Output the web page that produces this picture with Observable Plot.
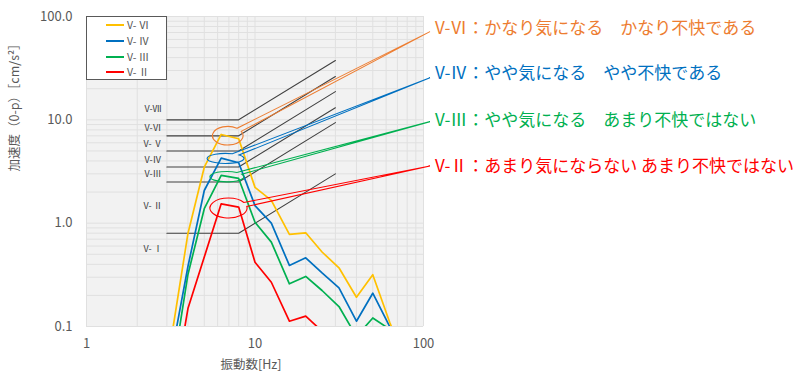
<!DOCTYPE html>
<html><head><meta charset="utf-8">
<script src="https://cdn.jsdelivr.net/npm/d3@7"></script>
<script src="https://cdn.jsdelivr.net/npm/@observablehq/plot@0.6"></script>
<style>
body{margin:0;background:#fff;}
#wrap{position:relative;width:807px;height:379px;font-family:"Noto Sans CJK JP",sans-serif;}
#legend{position:absolute;left:86px;top:16px;width:79px;height:62px;background:#fff;border:1px solid #595959;}
#legend .row{position:absolute;left:0;height:14px;display:flex;align-items:center;}
#legend .sw{width:18px;height:2px;margin-left:19px;margin-right:3px;}
#legend .lb{font-size:10.5px;color:#595959;line-height:14px;}
</style></head><body><div id="wrap"></div>
<script>
// ---- data ----
const freqs = [3.15, 4, 5, 6.3, 8, 10, 12.5, 16, 20, 25, 31.5, 40, 50, 63, 80];
const seriesNames = ["V- Ⅵ", "V- Ⅳ", "V- Ⅲ", "V- Ⅱ"];
const seriesColors = ["#FFC000", "#0070C0", "#00B050", "#FF0000"];
const valsVI  = [0.068, 0.795, 3.48, 7.22, 6.56, 2.22, 1.66, 0.778, 0.807, 0.526, 0.37, 0.192, 0.317, 0.11, 0.04];
const valsIV  = [0.047, 0.381, 2.07, 4.26, 3.84, 1.48, 1.0, 0.39, 0.462, 0.33, 0.237, 0.1125, 0.21, 0.1, 0.04];
const valsIII = [0.027, 0.319, 1.38, 2.9, 2.71, 1.02, 0.655, 0.259, 0.305, 0.223, 0.156, 0.08, 0.121, 0.094, 0.04];
const valsII  = [0.015, 0.149, 0.47, 1.54, 1.43, 0.419, 0.268, 0.1125, 0.126, 0.09, null, null, null, null, null];
const seriesValues = [valsVI, valsIV, valsIII, valsII];

// evaluation lines (flat 3-8 Hz, rising to 30 Hz)
const evalFreqs = [3, 8, 30];
const evalLevels8 = [10, 7, 5, 3.5, 2.5, 0.8];
const evalLevels30 = [37.5, 26.25, 18.75, 13.1, 9.4, 3.0];
const evalLabelText = ["V-Ⅶ", "V-Ⅵ", "V- Ⅴ", "V-Ⅳ", "V-Ⅲ", "V- Ⅱ", "V- Ⅰ"];
const evalLabelY = [12.6, 8.31, 5.87, 4.11, 2.96, 1.46, 0.565];
const evalLabelX = 2.48;

// callouts
const annTexts = [
  "V-Ⅵ：かなり気になる　かなり不快である",
  "V-Ⅳ：やや気になる　やや不快である",
  "V-Ⅲ：やや気になる　あまり不快ではない",
  "V-Ⅱ：あまり気にならない あまり不快ではない"
];
const annColors = ["#ED7D31", "#0070C0", "#00B050", "#FF0000"];
const annTextX = 117;
const annTextY = [76, 28, 9.9, 3.5];
const tipX = 110;
const tipY = [70.6, 25.3, 9.5, 3.54];
const ellF0 = [5.63, 5.23, 5.44, 5.44];
const ellF1 = [8.55, 8.66, 8.66, 9.03];
const ellA0 = [5.65, 3.74, 2.48, 1.11];
const ellA1 = [8.54, 4.68, 3.13, 1.73];

// axes
const xTickValues = [1, 10, 100];
const xTickLabels = ["1", "10", "100"];
const yTickValues = [0.1, 1, 10, 100];
const yTickLabels = ["0.1", "1.0", "10.0", "100.0"];
const xGrid = [1,2,3,4,5,6,7,8,9,10,20,30,40,50,60,70,80,90,100];
const yGrid = [0.1,0.2,0.3,0.4,0.5,0.6,0.7,0.8,0.9,1,2,3,4,5,6,7,8,9,10,20,30,40,50,60,70,80,90,100];
const xLabel = "振動数[Hz]";
const yLabel = "加速度（0-p）［cm/s²］";

// ---- build tables ----
const seriesRows = seriesNames.map((n, i) => freqs.map((f, j) => ({f, a: seriesValues[i][j], s: n})));
const evalRows = evalLevels8.map((lv, i) => evalFreqs.map((f, j) => ({f, a: j < 2 ? lv : evalLevels30[i], k: i}))).flat();
const evalLabels = evalLabelText.map((t, i) => ({t, x: evalLabelX, y: evalLabelY[i]}));
const anns = annTexts.map((t, i) => ({t, x: annTextX, y: annTextY[i], c: annColors[i]}));

function callouts(index, scales) {
  const g = d3.create("svg:g").attr("fill", "none").attr("stroke-width", 1.1);
  annColors.forEach((c, i) => {
    const x0 = scales.x(ellF0[i]), x1 = scales.x(ellF1[i]);
    const y0 = scales.y(ellA1[i]), y1 = scales.y(ellA0[i]);
    const cx = (x0 + x1) / 2, cy = (y0 + y1) / 2, rx = (x1 - x0) / 2, ry = (y1 - y0) / 2;
    const tx = scales.x(tipX), ty = scales.y(tipY[i]);
    const th = Math.atan2((ty - cy) / ry, (tx - cx) / rx);
    const w = 0.22;
    const p1 = [cx + rx * Math.cos(th - w), cy + ry * Math.sin(th - w)];
    const p2 = [cx + rx * Math.cos(th + w), cy + ry * Math.sin(th + w)];
    g.append("path")
      .attr("stroke", c)
      .attr("d", `M${p2[0]},${p2[1]}A${rx},${ry} 0 1 1 ${p1[0]},${p1[1]}L${tx},${ty}Z`);
  });
  return g.node();
}

const font = '"Noto Sans CJK JP", sans-serif';
const chart = Plot.plot({
  width: 807, height: 379,
  marginLeft: 86, marginRight: 384, marginTop: 16, marginBottom: 53,
  x: {type: "log", domain: [1, 100]},
  y: {type: "log", domain: [0.1, 100]},
  style: {fontFamily: font, fontSize: "13px", background: "transparent"},
  marks: [
    Plot.frame({fill: "#f2f2f2", stroke: null}),
    Plot.ruleX(xGrid, {stroke: "#e0e0e0", strokeWidth: 1}),
    Plot.ruleY(yGrid, {stroke: "#e0e0e0", strokeWidth: 1}),
    Plot.axisX({ticks: xTickValues, tickFormat: d => xTickLabels[xTickValues.indexOf(d)], tickSize: 0, tickPadding: 12, color: "#595959", fontSize: 13, label: null}),
    Plot.axisY({ticks: yTickValues, tickFormat: d => yTickLabels[yTickValues.indexOf(d)], tickSize: 0, tickPadding: 14, color: "#595959", fontSize: 13, label: null}),
    Plot.text([xLabel], {frameAnchor: "bottom", lineAnchor: "middle", dy: 38, dx: -4, text: d => d, fill: "#595959", fontSize: 12.5}),
    Plot.text([yLabel], {frameAnchor: "left", dx: -72, rotate: -90, text: d => d, fill: "#595959", fontSize: 12.5}),
    Plot.line(evalRows, {x: "f", y: "a", z: "k", stroke: "#404040", strokeWidth: 1.1}),
    Plot.text(evalLabels, {x: "x", y: "y", text: "t", fill: "#404040", fontSize: 9}),
    ...seriesRows.slice().reverse().map((rows, i) => Plot.line(rows, {x: "f", y: "a", stroke: seriesColors[seriesRows.length - 1 - i], strokeWidth: 1.7, clip: true})),
    callouts,
    Plot.text(anns, {x: "x", y: "y", text: "t", fill: "c", textAnchor: "start", fontSize: 17})
  ]
});
const wrap = document.getElementById("wrap");
wrap.appendChild(chart);
const legend = document.createElement("div");
legend.id = "legend";
seriesNames.forEach((n, i) => {
  const row = document.createElement("div");
  row.className = "row";
  row.style.top = (1 + i * 15.8) + "px";
  row.innerHTML = `<div class="sw" style="background:${seriesColors[i]}"></div><div class="lb">${n}</div>`;
  legend.appendChild(row);
});
wrap.appendChild(legend);
</script></body></html>
